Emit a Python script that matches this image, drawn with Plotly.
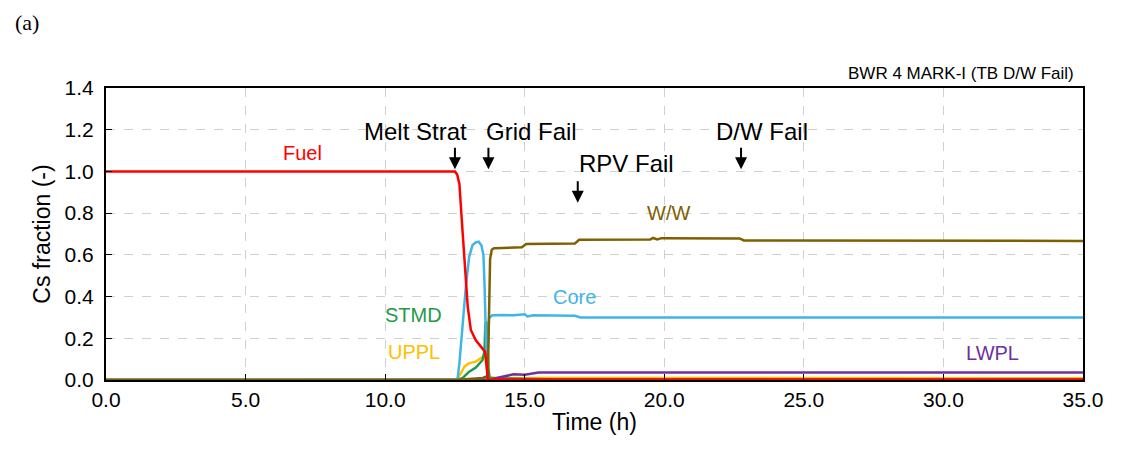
import plotly.graph_objects as go

# ---- data (time in h, Cs fraction) ----
fuel_t = [0, 12.5, 12.58, 12.66, 12.78, 12.87, 12.96, 13.07, 13.25, 13.43, 13.58, 13.64, 13.68, 14.0, 35]
fuel_v = [1.0, 1.0, 0.985, 0.94, 0.70, 0.50, 0.35, 0.24, 0.19, 0.16, 0.135, 0.064, 0.0, 0.002, 0.002]

core_t = [0, 12.55, 12.6, 12.66, 12.78, 12.9, 13.01, 13.13, 13.25, 13.35, 13.45, 13.52, 13.56, 13.6, 13.64,
          13.68, 13.72, 13.84, 14.2, 14.6, 15.0, 15.1, 15.3, 16.8, 17.0, 35]
core_v = [0, 0, 0.01, 0.08, 0.27, 0.46, 0.59, 0.647, 0.66, 0.663, 0.645, 0.60, 0.46, 0.22, 0.05,
          0.15, 0.296, 0.31, 0.312, 0.31, 0.315, 0.305, 0.31, 0.308, 0.30, 0.30]

ww_t = [0, 12.5, 13.0, 13.5, 13.68, 13.72, 13.76, 13.82, 13.9, 14.9, 15.05, 16.8, 16.95,
        19.5, 19.6, 19.75, 19.9, 22.7, 22.85, 35]
ww_v = [0, 0, 0.005, 0.01, 0.02, 0.3, 0.58, 0.625, 0.632, 0.636, 0.652, 0.655, 0.672,
        0.674, 0.681, 0.674, 0.68, 0.679, 0.669, 0.667]

stmd_t = [0, 12.6, 12.78, 13.01, 13.25, 13.49, 13.56, 13.59, 13.62, 13.66, 13.7, 13.75, 14.0, 16.0, 16.3, 35]
stmd_v = [0, 0, 0.01, 0.04, 0.06, 0.096, 0.14, 0.27, 0.28, 0.2, 0.05, 0.01, 0.008, 0.005, 0.002, 0.002]

uppl_t = [0, 12.55, 12.7, 12.84, 13.0, 13.25, 13.49, 13.58, 13.64, 13.7, 14.0, 35]
uppl_v = [0, 0, 0.03, 0.064, 0.08, 0.088, 0.11, 0.12, 0.06, 0.015, 0.01, 0.008]

lwpl_t = [0, 13.8, 14.0, 14.3, 14.6, 15.0, 15.3, 15.5, 35]
lwpl_v = [0, 0, 0.01, 0.02, 0.027, 0.025, 0.033, 0.036, 0.036]

other_t = [0, 13.7, 23.4, 23.5, 27.5, 27.6, 35]
other_v = [0, 0.002, 0.002, 0.005, 0.005, 0.002, 0.002]

series = [
    ("Other", other_t, other_v, "#7b1c1c"),
    ("UPPL", uppl_t, uppl_v, "#ffc000"),
    ("STMD", stmd_t, stmd_v, "#1f9a4a"),
    ("LWPL", lwpl_t, lwpl_v, "#7030a0"),
    ("Core", core_t, core_v, "#41b4e8"),
    ("W/W", ww_t, ww_v, "#7f6000"),
    ("Fuel", fuel_t, fuel_v, "#ff0000"),
]

# label annotations: text, x, y, color
labels = [
    ("Fuel", 7.05, 1.09, "#ff0000"),
    ("W/W", 20.15, 0.80, "#7f6000"),
    ("Core", 16.8, 0.40, "#41b4e8"),
    ("STMD", 11.0, 0.31, "#1f9a4a"),
    ("UPPL", 11.05, 0.135, "#ffc000"),
    ("LWPL", 31.75, 0.13, "#7030a0"),
]

# events: text, text x, text y, arrow x, arrow tip y
events = [
    ("Melt Strat", 11.1, 1.19, 12.5, 1.01),
    ("Grid Fail", 15.25, 1.19, 13.7, 1.01),
    ("RPV Fail", 18.65, 1.04, 16.9, 0.85),
    ("D/W Fail", 23.5, 1.19, 22.75, 1.01),
]

fig = go.Figure()
for name, t, v, c in series:
    fig.add_trace(go.Scatter(x=t, y=v, mode="lines", name=name,
                             line=dict(color=c, width=2.5), showlegend=False))

font = "Liberation Sans, Arial, sans-serif"
ann = []
for txt, x, y, c in labels:
    ann.append(dict(x=x, y=y, text=txt, showarrow=False, font=dict(family=font, size=20, color=c)))
for txt, tx, ty, axx, tipy in events:
    ann.append(dict(x=tx, y=ty, text=txt, showarrow=False, font=dict(family=font, size=24, color="black")))
    ann.append(dict(x=axx, y=tipy, text="", showarrow=True, arrowhead=2, arrowsize=1.2,
                    arrowwidth=2, arrowcolor="black", ax=0, ay=-23))
ann.append(dict(x=0.993, y=1.0, xref="paper", yref="paper", xanchor="right", yanchor="bottom",
                yshift=3, text="BWR 4 MARK-I (TB D/W Fail)", showarrow=False,
                font=dict(family=font, size=17, color="black")))
ann.append(dict(x=-0.0953, y=1.226, xref="paper", yref="paper", xanchor="left", yanchor="middle",
                text="(a)", showarrow=False,
                font=dict(family="Liberation Serif, Times New Roman, serif", size=22, color="black")))

axis_common = dict(ticks="inside", ticklen=6, tickcolor="black", showline=True, linecolor="black",
                   linewidth=2, mirror=True, showgrid=True, gridcolor="#d0d0d0", griddash="dash",
                   gridwidth=1, zeroline=False, tickformat=".1f",
                   tickfont=dict(family=font, size=21, color="black"))

fig.update_layout(
    width=1107, height=436,
    margin=dict(l=98, r=23, t=80, b=64),
    paper_bgcolor="white", plot_bgcolor="white",
    annotations=ann,
    xaxis=dict(range=[0, 35], dtick=5, **axis_common,
               title=dict(text="Time (h)", font=dict(family=font, size=23, color="black"), standoff=4)),
    yaxis=dict(range=[0, 1.4], dtick=0.2, ticklabelstandoff=6, **axis_common,
               title=dict(text="Cs fraction (-)", font=dict(family=font, size=23, color="black"), standoff=8)),
)

fig.write_html("out.html")
